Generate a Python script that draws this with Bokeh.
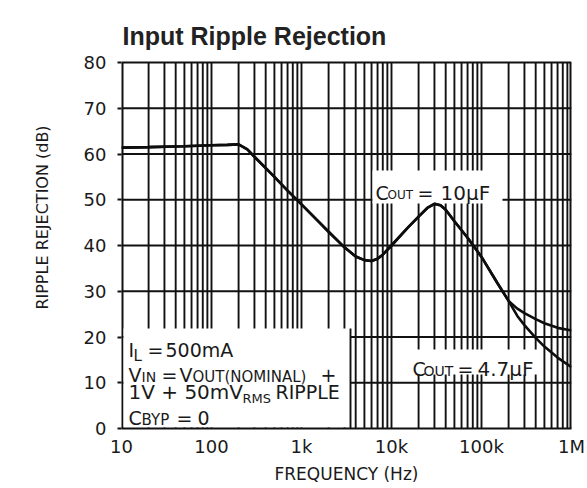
from bokeh.plotting import figure
from bokeh.models import Label, FixedTicker
from bokeh.embed import file_html
from bokeh.resources import INLINE

# ---------------- data ----------------
x_ticks = [10, 100, 1000, 10000, 100000, 1000000]
x_tick_labels = ["10", "100", "1k", "10k", "100k", "1M"]
y_ticks = [0, 10, 20, 30, 40, 50, 60, 70, 80]

freq_10u = [10, 20, 50, 100, 150, 200, 250, 300, 500, 700, 1000, 1500, 2000, 3000,
            4000, 5000, 6000, 7000, 8000, 10000, 15000, 20000, 25000, 30000, 35000,
            40000, 50000, 70000, 100000, 150000, 200000, 250000, 300000, 400000,
            500000, 700000, 1000000]
rr_10u = [61.4, 61.5, 61.7, 61.9, 62.0, 62.1, 61.0, 59.4, 55.0, 52.0, 49.0, 45.5, 43.0, 39.6,
          37.6, 36.8, 36.6, 37.1, 38.0, 40.0, 43.8, 46.3, 48.2, 49.1, 48.8,
          47.8, 45.3, 41.7, 37.5, 31.8, 27.9, 26.2, 25.2, 23.9,
          23.0, 22.0, 21.4]

freq_47u = [10, 20, 50, 100, 150, 200, 250, 300, 500, 700, 1000, 1500, 2000, 3000,
            4000, 5000, 6000, 7000, 8000, 10000, 15000, 20000, 25000, 30000, 35000,
            40000, 50000, 70000, 100000, 150000, 200000, 250000, 300000, 400000,
            500000, 700000, 1000000]
rr_47u = [61.4, 61.5, 61.7, 61.9, 62.0, 62.1, 61.0, 59.4, 55.0, 52.0, 49.0, 45.5, 43.0, 39.6,
          37.6, 36.8, 36.6, 37.1, 38.0, 40.0, 43.8, 46.3, 48.2, 49.1, 48.8,
          47.8, 45.3, 41.7, 37.5, 31.8, 27.9, 24.6, 22.6, 19.8,
          17.9, 15.5, 13.4]

title_text = "Input Ripple Rejection"

# ---------------- figure ----------------
W, H = 587, 488
FL, FR, FT, FB = 121, 571, 62, 428   # plot box (10..1M, 0..80 dB) in page pixels
TOP = 6                              # canvas frame top (room for the title inside it)
Y_MAX = 80.0 * (FB - TOP) / (FB - FT)


def hz(px):
    return 10 ** (1 + (px - FL) * 5.0 / (FR - FL))


def db(py):
    return (FB - py) * 80.0 / (FB - FT)


p = figure(width=W, height=H, x_axis_type="log", x_range=(10, 1e6), y_range=(0, Y_MAX),
           output_backend="svg", toolbar_location=None,
           min_border_left=FL, min_border_right=W - FR,
           min_border_top=TOP, min_border_bottom=H - FB)
p.background_fill_color = "white"
p.border_fill_color = "white"
p.xgrid.visible = False
p.ygrid.visible = False
p.outline_line_color = None

TXT = "#1a1a1a"
FONT = "DejaVu Sans"
INK = "#111111"

# axes
p.xaxis.ticker = FixedTicker(ticks=x_ticks, minor_ticks=[])
p.xaxis.major_label_overrides = {t: l for t, l in zip(x_ticks, x_tick_labels)}
p.xaxis.major_tick_out = 0
p.xaxis.major_tick_in = 0
p.xaxis.major_label_standoff = 7
p.xaxis.axis_label = "FREQUENCY (Hz)"
p.xaxis.axis_label_standoff = 4
p.xaxis.axis_line_color = INK
p.xaxis.axis_line_width = 2

p.yaxis.ticker = FixedTicker(ticks=y_ticks, minor_ticks=[])
p.yaxis.major_tick_out = 4
p.yaxis.major_tick_in = 0
p.yaxis.major_label_standoff = 11
p.yaxis.axis_label = "RIPPLE REJECTION (dB)"
p.yaxis.axis_label_standoff = 29
p.yaxis.axis_line_color = None

for ax in (p.xaxis, p.yaxis):
    ax.major_tick_line_color = INK
    ax.major_tick_line_width = 2
    ax.major_label_text_font = FONT
    ax.major_label_text_font_size = "18px"
    ax.major_label_text_color = TXT
    ax.axis_label_text_font = FONT
    ax.axis_label_text_font_style = "normal"
    ax.axis_label_text_color = TXT
p.xaxis.axis_label_text_font_size = "17px"
p.yaxis.axis_label_text_font_size = "16px"

# grid drawn as segments
vx = [m * d for d in [10, 100, 1000, 10000, 100000] for m in range(1, 10) if m * d > 10]
p.segment(x0=vx, y0=[0] * len(vx), x1=vx, y1=[80] * len(vx), line_color=INK, line_width=1.9)
hy = [10, 20, 30, 40, 50, 60, 70]
p.segment(x0=[10] * len(hy), y0=hy, x1=[1e6] * len(hy), y1=hy, line_color=INK, line_width=1.9)

# plot box border (left, right, top)
p.segment(x0=[10, 1e6, 10], y0=[0, 0, 80], x1=[10, 1e6, 1e6], y1=[80, 80, 80],
          line_color=INK, line_width=[4, 4, 2])

# white boxes behind annotation texts
p.quad(left=[hz(123), hz(372), hz(408)], right=[hz(350), hz(502), hz(541)],
       bottom=[db(427), db(203), db(374)], top=[db(328), db(170), db(349)],
       fill_color="white", line_color=None)
p.segment(x0=[hz(350)], y0=[0], x1=[hz(350)], y1=[db(328)], line_color=INK, line_width=1.9)

# curves
p.line(x=freq_10u, y=rr_10u, line_color="#0d0d0d", line_width=2.6)
p.line(x=freq_47u, y=rr_47u, line_color="#0d0d0d", line_width=2.6)


def put(px, py, text, size, font=FONT, style="normal", color=TXT):
    p.add_layout(Label(x=hz(px), y=db(py), text=text, text_font=font,
                       text_font_size=f"{size}px", text_font_style=style,
                       text_baseline="alphabetic", text_align="left", text_color=color))


# title
put(122, 35, title_text, 25, font="Liberation Sans", style="bold", color="#222222")

# conditions box
put(128, 349, "I", 19)
put(133, 355, "L", 15)
put(147, 349, "=", 19)
put(165, 349, "500mA", 19)

put(128, 374, "V", 19)
put(141, 376, "IN", 14)
put(161, 374, "=", 19)
put(179, 374, "V", 19)
put(192, 376, "OUT(NOMINAL)", 15)
put(320, 374, "+", 19)

put(128, 391, "1V + 50mV", 20)
put(242, 398, "RMS", 13)
put(275, 391, "RIPPLE", 19)

put(128, 417, "C", 19)
put(141, 419, "BYP", 15)
put(176, 417, "=", 19)
put(197, 417, "0", 19)

# curve labels
put(375, 192, "C", 19)
put(387, 194, "OUT", 12)
put(417, 192, "=", 19)
put(440, 192, "10\u00b5F", 20)

put(412, 368, "C", 19)
put(423, 370, "OUT", 14)
put(457, 368, "=", 19)
put(477, 368, "4.7\u00b5F", 20)

open("out.html", "w").write(file_html(p, INLINE))
